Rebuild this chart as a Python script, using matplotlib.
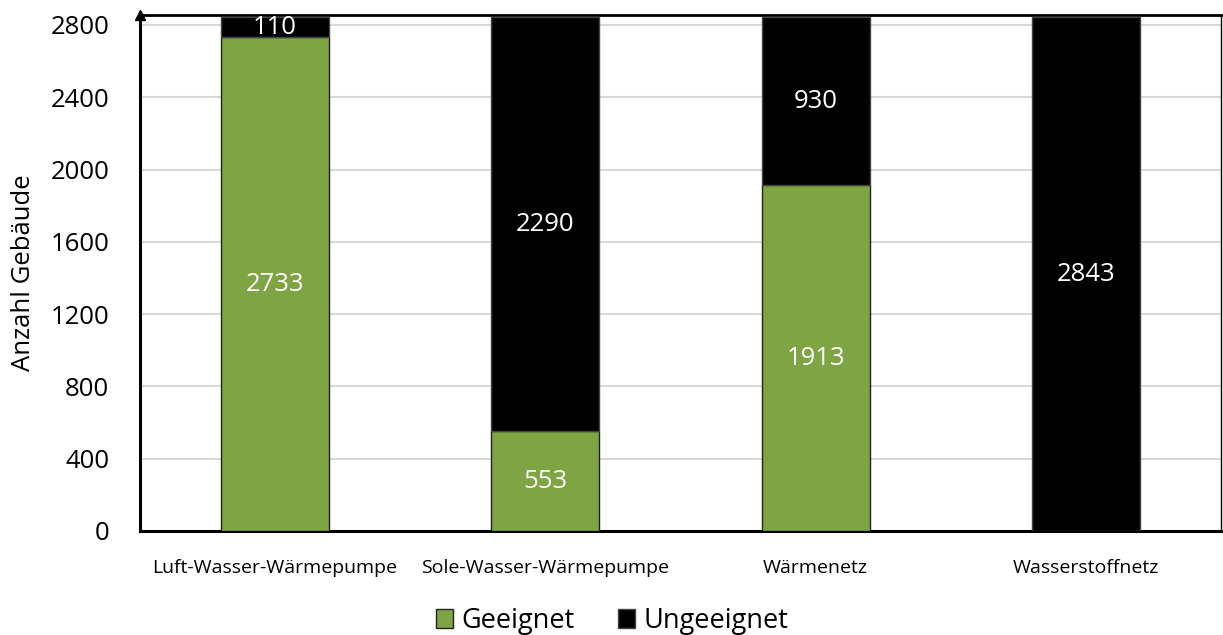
import matplotlib
matplotlib.use("Agg")
import matplotlib.pyplot as plt
import numpy as np

categories = ["Luft-Wasser-Wärmepumpe", "Sole-Wasser-Wärmepumpe", "Wärmenetz", "Wasserstoffnetz"]
geeignet = [2733, 553, 1913, 0]
ungeeignet = [110, 2290, 930, 2843]
yticks = [0, 400, 800, 1200, 1600, 2000, 2400, 2800]

plt.rcParams['font.family'] = ['Open Sans', 'DejaVu Sans']

fig = plt.figure(figsize=(12.23, 6.35), dpi=100)
ax = fig.add_axes([140/1223, 1-531/635, (1221-140)/1223, (531-15)/635])

green = "#7EA443"
x = np.arange(len(categories))
w = 0.4
b1 = ax.bar(x, geeignet, w, color=green, edgecolor="#222222", linewidth=1.0, label="Geeignet", zorder=3)
b2 = ax.bar(x, ungeeignet, w, bottom=geeignet, color="black", edgecolor="#444444", linewidth=1.0, label="Ungeeignet", zorder=3)

for i in range(len(categories)):
    if geeignet[i] > 0:
        ax.text(x[i], geeignet[i]/2, str(geeignet[i]), ha="center", va="center", color="white", fontsize=18.5, zorder=5)
    if ungeeignet[i] > 0:
        ax.text(x[i], geeignet[i] + ungeeignet[i]/2, str(ungeeignet[i]), ha="center", va="center", color="white", fontsize=18.5, zorder=5)

ax.set_xlim(-0.5, 3.5)
ax.set_ylim(0, 2855)
ax.set_yticks(yticks)
ax.set_yticklabels([str(v) for v in yticks], fontsize=18.5)
ax.set_xticks(x)
ax.set_xticklabels(categories, fontsize=14)
ax.tick_params(axis="both", length=0)
ax.tick_params(axis="y", pad=22)
ax.tick_params(axis="x", pad=20)
ax.yaxis.grid(True, color="#D9D9D9", linewidth=1.5, zorder=0)
ax.set_axisbelow(True)
ax.set_ylabel("Anzahl Gebäude", fontsize=18.5)
ax.yaxis.set_label_coords((36-140)/1081, (531-273)/516)

for s in ["left", "bottom"]:
    ax.spines[s].set_linewidth(2.2)
    ax.spines[s].set_color("black")
ax.spines["top"].set_linewidth(2.0)
ax.spines["right"].set_linewidth(1.0)

ax.plot([0], [1], marker="^", color="black", markersize=7, transform=ax.transAxes, clip_on=False, zorder=6)

leg = fig.legend(handles=[b1, b2], labels=["Geeignet", "Ungeeignet"], loc="center", bbox_to_anchor=(612/1223, 1-621/635),
                 ncol=2, frameon=False, fontsize=19.5, handlelength=0.65, handleheight=0.65, handletextpad=0.3, columnspacing=1.6)

fig.savefig("out.png", dpi=100)
